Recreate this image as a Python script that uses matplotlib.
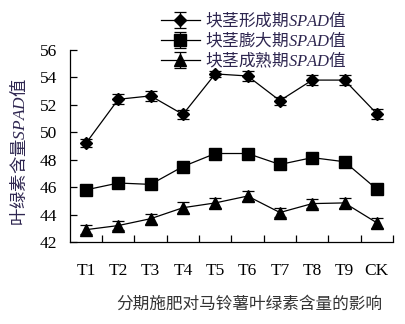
import matplotlib
matplotlib.use('Agg')
import matplotlib.pyplot as plt

plt.rcParams['mathtext.fontset'] = 'custom'
plt.rcParams['mathtext.it'] = 'Liberation Serif:italic'
plt.rcParams['mathtext.rm'] = 'Liberation Serif'

# Data
treatments = ['T1', 'T2', 'T3', 'T4', 'T5', 'T6', 'T7', 'T8', 'T9', 'CK']
formation = [49.2, 52.4, 52.65, 51.3, 54.25, 54.1, 52.3, 53.8, 53.8, 51.35]
formation_err = [0.3, 0.35, 0.35, 0.35, 0.2, 0.35, 0.3, 0.35, 0.35, 0.35]
bulking = [45.8, 46.3, 46.2, 47.5, 48.45, 48.45, 47.65, 48.15, 47.85, 45.85]
bulking_err = [0.35, 0.35, 0.35, 0.35, 0.35, 0.35, 0.35, 0.35, 0.35, 0.35]
maturity = [42.9, 43.2, 43.7, 44.5, 44.85, 45.35, 44.15, 44.8, 44.85, 43.4]
maturity_err = [0.35, 0.35, 0.35, 0.4, 0.35, 0.35, 0.35, 0.35, 0.35, 0.35]

labels = ['块茎形成期$\\mathit{SPAD}$值',
          '块茎膨大期$\\mathit{SPAD}$值',
          '块茎成熟期$\\mathit{SPAD}$值']

cjk = 'Noto Sans CJK SC'
serif = 'Liberation Serif'
text_col = '#2e2650'

fig = plt.figure(figsize=(4.06, 3.24), dpi=100)
ax = fig.add_axes([0.172, 0.253, 0.796, 0.593])

x = list(range(len(treatments)))
series = [(formation, formation_err, 'D', 6),
          (bulking, bulking_err, 's', 8),
          (maturity, maturity_err, '^', 8)]
for (vals, err, mk, ms), lab in zip(series, labels):
    ax.errorbar(x, vals, yerr=err, color='black', marker=mk, markersize=ms,
                linewidth=0.9, elinewidth=0.9, capsize=4, capthick=0.9,
                label=lab)

ax.set_xlim(-0.5, 9.5)
ax.set_ylim(42, 56)
ax.set_yticks(range(42, 57, 2))
ax.set_xticks(x)
ax.set_xticklabels(treatments)
ax.set_xticks([i + 0.5 for i in x], minor=True)
ax.tick_params(axis='x', which='major', length=0, pad=15)
ax.tick_params(axis='x', which='minor', direction='in', length=5, width=0.9)
ax.tick_params(axis='y', direction='in', length=5, width=0.9, pad=9)
for t in ax.get_xticklabels() + ax.get_yticklabels():
    t.set_fontfamily(serif)
    t.set_fontsize(12.5)

ax.spines['top'].set_visible(False)
ax.spines['right'].set_visible(False)
for s in ['left', 'bottom']:
    ax.spines[s].set_linewidth(0.9)

ax.set_ylabel('叶绿素含量$\\mathit{SPAD}$值', fontfamily=cjk, fontsize=12.5,
              color=text_col)
ax.yaxis.set_label_coords(-0.125, 0.47)

leg = ax.legend(loc='upper left', bbox_to_anchor=(0.397, 0.97),
                bbox_transform=fig.transFigure, frameon=False,
                handlelength=2.3, handletextpad=0.3, labelspacing=0.0,
                borderaxespad=0, borderpad=0,
                prop={'family': cjk, 'size': 12})
for t in leg.get_texts():
    t.set_color(text_col)

fig.text(0.613, 0.062, '分期施肥对马铃薯叶绿素含量的影响', fontfamily=cjk,
         fontsize=12, color='#333333', ha='center', va='center')

fig.savefig('out.png', dpi=100)
